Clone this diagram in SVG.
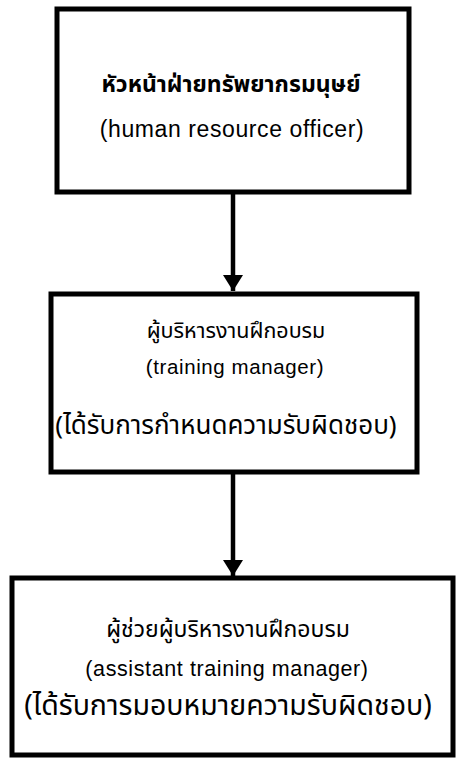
<svg xmlns="http://www.w3.org/2000/svg" width="456" height="758" viewBox="0 0 456 758">
  <defs>
    <marker id="arrow" viewBox="0 -10 16 20" refX="16" refY="0" markerWidth="16" markerHeight="20" markerUnits="userSpaceOnUse" orient="auto">
      <path d="M0,-10 L16,0 L0,10 z" fill="#000"/>
    </marker>
    <style>
      .box { fill: #fff; stroke: #000; stroke-width: 5; }
      .conn { stroke: #000; stroke-width: 4.5; fill: none; }
      text { fill: #000; text-anchor: middle; }
      .th { font-family: "Noto Sans Thai", "Noto Sans", "DejaVu Sans", sans-serif; }
      .en { font-family: "Liberation Sans", Arial, sans-serif; letter-spacing: 0.6px; }
    </style>
  </defs>
  <rect width="456" height="758" fill="#fff"/>
  <g id="node-hr-officer">
    <rect class="box" x="57" y="9" width="352" height="183" stroke-width="4.5"/>
    <text class="th" x="231" y="92" font-size="23" font-weight="bold">หัวหน้าฝ่ายทรัพยากรมนุษย์</text>
    <text class="en" x="232" y="137" font-size="23">(human resource officer)</text>
  </g>
  <g id="node-training-manager">
    <rect class="box" x="51" y="294" width="366" height="178"/>
    <text class="th" x="236" y="338" font-size="21.5">ผู้บริหารงานฝึกอบรม</text>
    <text class="en" x="235" y="374" font-size="20.5">(training manager)</text>
    <text class="th" x="226" y="434" font-size="26">(ได้รับการกำหนดความรับผิดชอบ)</text>
  </g>
  <g id="node-assistant-training-manager">
    <rect class="box" x="12" y="578" width="441" height="177"/>
    <text class="th" x="228" y="637" font-size="23">ผู้ช่วยผู้บริหารงานฝึกอบรม</text>
    <text class="en" x="227" y="676" font-size="21.5">(assistant training manager)</text>
    <text class="th" x="228" y="715" font-size="28.5">(ได้รับการมอบหมายความรับผิดชอบ)</text>
  </g>
  <g id="connectors">
    <line class="conn" x1="233" y1="192" x2="233" y2="291" marker-end="url(#arrow)"/>
    <line class="conn" x1="233" y1="472" x2="233" y2="576" marker-end="url(#arrow)"/>
  </g>
</svg>
